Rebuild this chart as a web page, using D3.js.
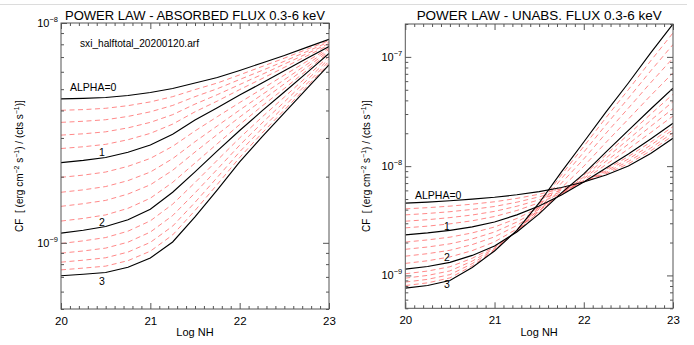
<!DOCTYPE html>
<html><head><meta charset="utf-8">
<script src="https://cdn.jsdelivr.net/npm/d3@7"></script>
<style>
body{margin:0;background:#fff}
svg{display:block}
text{font-family:"Liberation Sans",Arial,sans-serif;fill:#000}
</style>
</head><body>
<svg id="c" width="694" height="345"></svg>
<script>
// ---------- data (log10 of CF, per alpha) ----------
const logNH = [20,20.25,20.5,20.75,21,21.25,21.5,21.75,22,22.25,22.5,22.75,23];
const alphas = [0,0.2,0.4,0.6,0.8,1,1.2,1.4,1.6,1.8,2,2.2,2.4,2.6,2.8,3];

// absorbed flux panel
const abs00 = [-8.345,-8.343,-8.339,-8.330,-8.316,-8.298,-8.273,-8.248,-8.216,-8.182,-8.148,-8.111,-8.074];
const abs02 = [-8.397,-8.394,-8.388,-8.376,-8.359,-8.335,-8.303,-8.273,-8.236,-8.198,-8.160,-8.120,-8.080];
const abs04 = [-8.452,-8.447,-8.440,-8.425,-8.404,-8.375,-8.335,-8.299,-8.257,-8.216,-8.174,-8.130,-8.086];
const abs06 = [-8.510,-8.504,-8.495,-8.477,-8.452,-8.417,-8.369,-8.326,-8.280,-8.234,-8.187,-8.140,-8.093];
const abs08 = [-8.571,-8.563,-8.552,-8.531,-8.502,-8.460,-8.404,-8.355,-8.303,-8.253,-8.202,-8.150,-8.100];
const abs10 = [-8.635,-8.625,-8.612,-8.588,-8.555,-8.506,-8.441,-8.385,-8.328,-8.273,-8.217,-8.161,-8.107];
const abs12 = [-8.702,-8.692,-8.678,-8.652,-8.616,-8.561,-8.491,-8.426,-8.362,-8.300,-8.237,-8.175,-8.114];
const abs14 = [-8.770,-8.759,-8.744,-8.717,-8.678,-8.617,-8.540,-8.468,-8.396,-8.326,-8.258,-8.189,-8.120];
const abs16 = [-8.834,-8.822,-8.807,-8.778,-8.736,-8.670,-8.587,-8.507,-8.428,-8.352,-8.277,-8.202,-8.127];
const abs18 = [-8.901,-8.889,-8.873,-8.843,-8.797,-8.725,-8.637,-8.549,-8.462,-8.378,-8.298,-8.216,-8.134];
const abs20 = [-8.956,-8.943,-8.926,-8.895,-8.847,-8.770,-8.677,-8.582,-8.489,-8.400,-8.314,-8.227,-8.139];
const abs22 = [-9.003,-8.991,-8.976,-8.947,-8.900,-8.824,-8.726,-8.624,-8.523,-8.428,-8.337,-8.245,-8.151];
const abs24 = [-9.047,-9.037,-9.024,-8.997,-8.951,-8.876,-8.773,-8.665,-8.556,-8.455,-8.359,-8.261,-8.163];
const abs26 = [-9.088,-9.079,-9.068,-9.042,-8.998,-8.924,-8.816,-8.702,-8.586,-8.480,-8.379,-8.277,-8.174];
const abs28 = [-9.123,-9.115,-9.106,-9.081,-9.038,-8.964,-8.853,-8.734,-8.612,-8.501,-8.396,-8.290,-8.184];
const abs30 = [-9.150,-9.143,-9.135,-9.111,-9.069,-8.996,-8.882,-8.759,-8.632,-8.518,-8.409,-8.300,-8.191];

// unabsorbed flux panel
const un00 = [-8.339,-8.329,-8.317,-8.302,-8.285,-8.262,-8.233,-8.195,-8.145,-8.081,-7.998,-7.884,-7.745];
const un02 = [-8.391,-8.380,-8.366,-8.348,-8.326,-8.295,-8.257,-8.207,-8.145,-8.069,-7.978,-7.860,-7.720];
const un04 = [-8.446,-8.433,-8.417,-8.396,-8.369,-8.330,-8.281,-8.221,-8.145,-8.057,-7.957,-7.835,-7.694];
const un06 = [-8.504,-8.490,-8.471,-8.447,-8.414,-8.367,-8.308,-8.234,-8.145,-8.044,-7.935,-7.808,-7.667];
const un08 = [-8.565,-8.549,-8.528,-8.500,-8.461,-8.406,-8.335,-8.249,-8.145,-8.030,-7.912,-7.780,-7.638];
const un10 = [-8.629,-8.611,-8.588,-8.556,-8.511,-8.446,-8.364,-8.264,-8.145,-8.016,-7.888,-7.751,-7.608];
const un12 = [-8.695,-8.675,-8.650,-8.611,-8.557,-8.479,-8.379,-8.260,-8.129,-7.985,-7.843,-7.693,-7.541];
const un14 = [-8.761,-8.740,-8.711,-8.666,-8.603,-8.512,-8.395,-8.256,-8.114,-7.955,-7.798,-7.636,-7.473];
const un16 = [-8.824,-8.801,-8.770,-8.718,-8.647,-8.543,-8.409,-8.252,-8.099,-7.925,-7.755,-7.581,-7.409];
const un18 = [-8.890,-8.866,-8.831,-8.773,-8.693,-8.575,-8.425,-8.248,-8.084,-7.895,-7.710,-7.524,-7.342];
const un20 = [-8.943,-8.918,-8.881,-8.817,-8.730,-8.602,-8.437,-8.245,-8.071,-7.870,-7.673,-7.477,-7.287];
const un22 = [-8.985,-8.960,-8.921,-8.843,-8.741,-8.599,-8.413,-8.199,-8.001,-7.782,-7.569,-7.354,-7.146];
const un24 = [-9.025,-9.000,-8.959,-8.869,-8.752,-8.595,-8.390,-8.155,-7.934,-7.698,-7.469,-7.236,-7.011];
const un26 = [-9.061,-9.036,-8.993,-8.892,-8.761,-8.592,-8.369,-8.114,-7.872,-7.621,-7.378,-7.128,-6.887];
const un28 = [-9.093,-9.068,-9.023,-8.912,-8.770,-8.590,-8.351,-8.080,-7.820,-7.555,-7.300,-7.036,-6.781];
const un30 = [-9.117,-9.092,-9.046,-8.927,-8.776,-8.588,-8.337,-8.053,-7.779,-7.504,-7.239,-6.964,-6.699];

const xTicks = [20,21,22,23];
const xTickLabels = ["20","21","22","23"];
const absYMajor = [-9,-8];
const unYMajor = [-9,-8,-7];
const curveLabels = ["ALPHA=0","1","2","3"];
const arfName = "sxi_halftotal_20200120.arf";

const absCurves = [abs00,abs02,abs04,abs06,abs08,abs10,abs12,abs14,abs16,abs18,abs20,abs22,abs24,abs26,abs28,abs30];
const unCurves = [un00,un02,un04,un06,un08,un10,un12,un14,un16,un18,un20,un22,un24,un26,un28,un30];

// ---------- layout ----------
const panels = [
  {id:"a", title:"POWER LAW - ABSORBED FLUX 0.3-6 keV", titleLen:260, curves:absCurves,
   left:61, right:329, top:23, bottom:309, yDomain:[5e-10,1e-8], yMajor:absYMajor,
   ytitleX:23,
   labelPos:[[70,91,"start"],[102,155.5,"middle"],[102,225.5,"middle"],[102,285,"middle"]]},
  {id:"b", title:"POWER LAW - UNABS. FLUX 0.3-6 keV", titleLen:245, curves:unCurves,
   left:405.3, right:673, top:24, bottom:308.3, yDomain:[5e-10,2e-7], yMajor:unYMajor,
   ytitleX:370,
   labelPos:[[415,199,"start"],[447,230,"middle"],[447,260.5,"middle"],[447,287.5,"middle"]]}
];

const svg = d3.select("#c");
svg.append("line").attr("x1",0).attr("x2",687).attr("y1",4.5).attr("y2",4.5)
  .attr("stroke","#dcdcdc").attr("stroke-width",1);

const axisColor = "#555";

function minorLogTicks(domain){
  const out=[];
  const lo=Math.floor(Math.log10(domain[0])), hi=Math.ceil(Math.log10(domain[1]));
  for(let e=lo;e<=hi;e++) for(let m=2;m<=9;m++){
    const v=m*Math.pow(10,e);
    if(v>=domain[0]*0.999 && v<=domain[1]*1.001) out.push(v);
  }
  return out;
}

panels.forEach(p=>{
  const g = svg.append("g");
  const x = d3.scaleLinear().domain([20,23]).range([p.left,p.right]);
  const y = d3.scaleLog().domain(p.yDomain).range([p.bottom,p.top]);

  svg.append("clipPath").attr("id","clip"+p.id).append("rect")
    .attr("x",p.left).attr("y",p.top).attr("width",p.right-p.left).attr("height",p.bottom-p.top);

  const line = d3.line().x((d,i)=>x(logNH[i])).y(d=>y(Math.pow(10,d)));
  const cg = g.append("g").attr("clip-path",`url(#clip${p.id})`);
  p.curves.forEach((c,k)=>{
    if(alphas[k]%1!==0){
      cg.append("path").attr("d",line(c)).attr("fill","none")
        .attr("stroke","#ff5a5a").attr("stroke-width",0.85).attr("stroke-opacity",0.85)
        .attr("stroke-dasharray","5,3.5");
    }
  });
  p.curves.forEach((c,k)=>{
    if(alphas[k]%1===0){
      cg.append("path").attr("d",line(c)).attr("fill","none")
        .attr("stroke","#000").attr("stroke-width",1.15);
    }
  });

  // axes
  const xMinor = d3.range(201,231).filter(v=>v%10!==0).map(v=>v/10);
  const yMajorVals = p.yMajor.map(e=>Math.pow(10,e));
  const yMinorVals = minorLogTicks(p.yDomain);

  const addAxis = (gen, tx, ty) => {
    const a = g.append("g").attr("transform",`translate(${tx},${ty})`).call(gen);
    a.select(".domain").remove();
    a.selectAll(".tick line").attr("stroke",axisColor);
    return a;
  };
  const xb = addAxis(d3.axisBottom(x).tickValues(xTicks).tickSize(-6).tickPadding(8)
      .tickFormat((d,i)=>xTickLabels[i]), 0, p.bottom);
  xb.selectAll("text").attr("font-size",11.5).attr("fill","#000")
    .attr("font-family","Liberation Sans, Arial, sans-serif");
  addAxis(d3.axisBottom(x).tickValues(xMinor).tickSize(-3).tickFormat(""),0,p.bottom);
  addAxis(d3.axisTop(x).tickValues(xTicks).tickSize(-6).tickFormat(""),0,p.top);
  addAxis(d3.axisTop(x).tickValues(xMinor).tickSize(-3).tickFormat(""),0,p.top);
  addAxis(d3.axisLeft(y).tickValues(yMajorVals).tickSize(-6).tickFormat(""),p.left,0);
  addAxis(d3.axisLeft(y).tickValues(yMinorVals).tickSize(-3).tickFormat(""),p.left,0);
  addAxis(d3.axisRight(y).tickValues(yMajorVals).tickSize(-6).tickFormat(""),p.right,0);
  addAxis(d3.axisRight(y).tickValues(yMinorVals).tickSize(-3).tickFormat(""),p.right,0);

  g.append("rect").attr("x",p.left).attr("y",p.top)
    .attr("width",p.right-p.left).attr("height",p.bottom-p.top)
    .attr("fill","none").attr("stroke",axisColor).attr("stroke-width",1);

  // y tick labels 10^n
  p.yMajor.forEach(e=>{
    const t = g.append("text").attr("x",p.left-3).attr("y",y(Math.pow(10,e))+4)
      .attr("text-anchor","end").attr("font-size",11);
    t.append("tspan").text("10");
    t.append("tspan").attr("dy",-5).attr("font-size",7.5).text("\u2212"+Math.abs(e));
  });

  // title
  g.append("text").attr("x",(p.left+p.right)/2).attr("y",19.5).attr("text-anchor","middle")
    .attr("font-size",13.5).attr("textLength",p.titleLen).attr("lengthAdjust","spacingAndGlyphs")
    .text(p.title);

  // x title
  g.append("text").attr("x",(p.left+p.right)/2).attr("y",336).attr("text-anchor","middle")
    .attr("font-size",11).text("Log NH");

  // y title
  const yt = g.append("text").attr("transform",`translate(${p.ytitleX},${(p.top+p.bottom)/2}) rotate(-90)`)
    .attr("text-anchor","middle").attr("font-size",10);
  yt.append("tspan").text("CF\u00a0\u00a0[ (erg cm");
  yt.append("tspan").attr("dy",-4).attr("font-size",7).text("\u22122");
  yt.append("tspan").attr("dy",4).text(" s");
  yt.append("tspan").attr("dy",-4).attr("font-size",7).text("\u22121");
  yt.append("tspan").attr("dy",4).text(") / (cts s");
  yt.append("tspan").attr("dy",-4).attr("font-size",7).text("\u22121");
  yt.append("tspan").attr("dy",4).text(")]");

  // curve labels
  curveLabels.forEach((s,i)=>{
    const lp = p.labelPos[i];
    g.append("text").attr("x",lp[0]).attr("y",lp[1]).attr("text-anchor",lp[2])
      .attr("font-size",10.5).text(s);
  });

  if(p.id==="a"){
    g.append("text").attr("x",80).attr("y",46.5).attr("font-size",10)
      .attr("textLength",119).attr("lengthAdjust","spacingAndGlyphs").text(arfName);
  }
});
</script>
</body></html>
